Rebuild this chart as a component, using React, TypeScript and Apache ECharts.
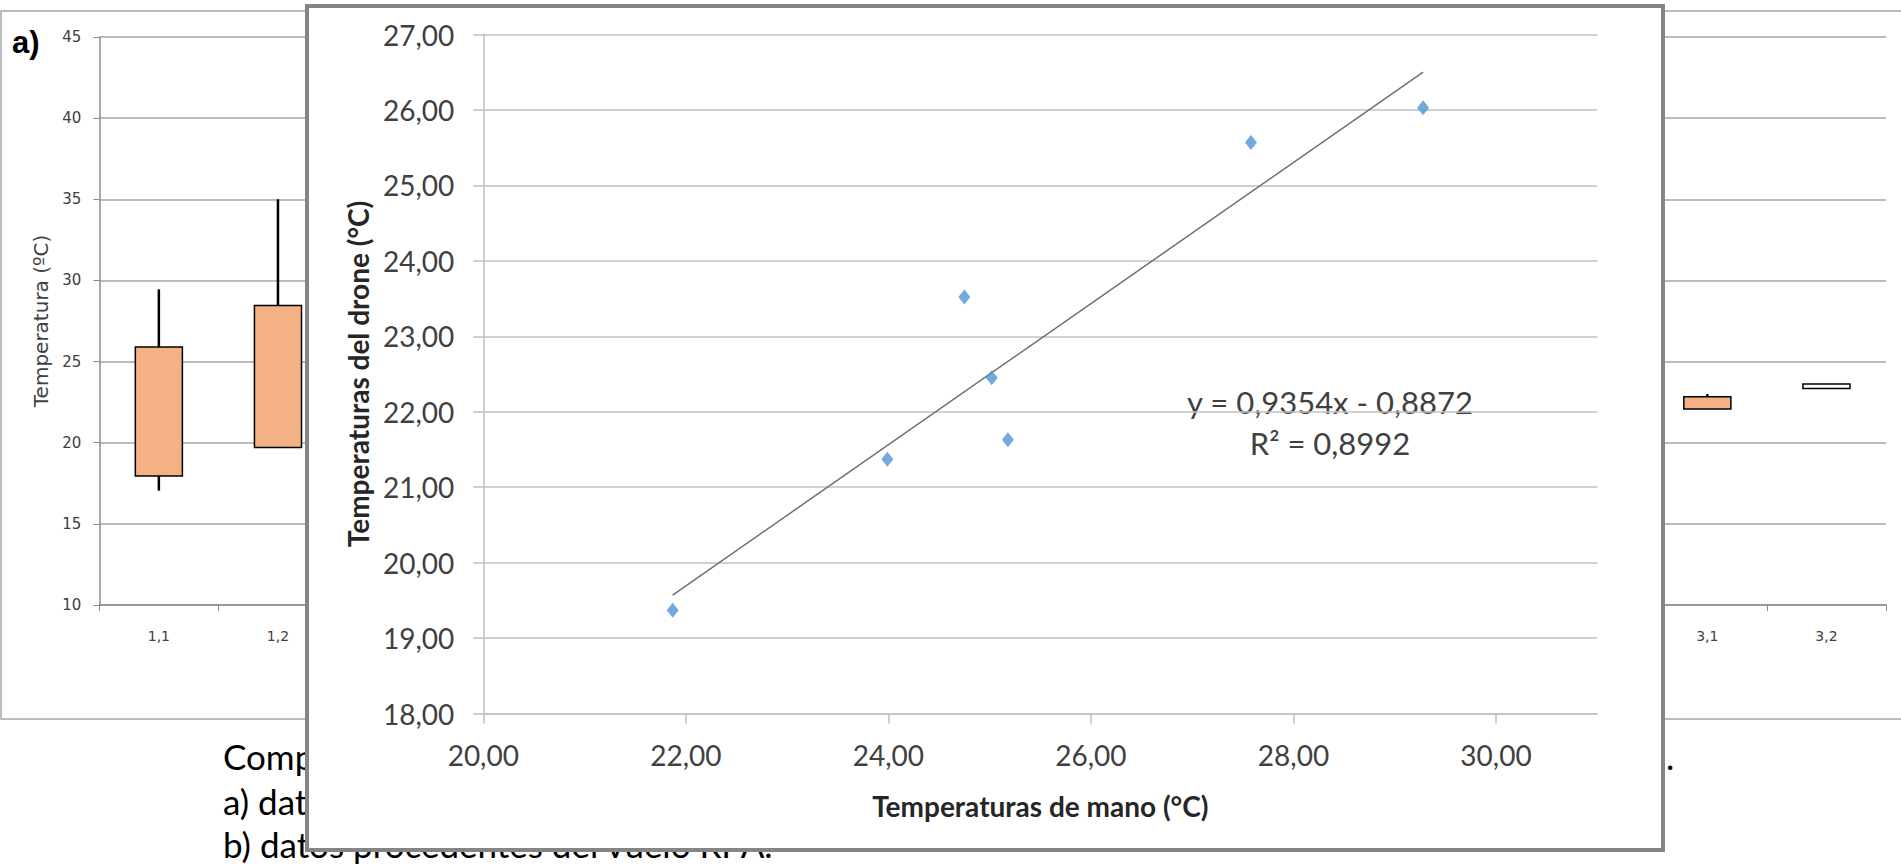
import React, { useEffect, useRef } from "react";
import * as echarts from "echarts";

// ---------- background box plot (panel a) ----------
const boxCategories = ["1,1", "1,2", "", "", "", "", "", "", "", "", "", "", "", "3,1", "3,2"];
const boxMin = [17.05, 19.7, null, null, null, null, null, null, null, null, null, null, null, 22.07, 23.34];
const boxQ1 = [17.95, 19.7, null, null, null, null, null, null, null, null, null, null, null, 22.07, 23.34];
const boxQ3 = [25.9, 28.45, null, null, null, null, null, null, null, null, null, null, null, 22.83, 23.62];
const boxMax = [29.45, 35.0, null, null, null, null, null, null, null, null, null, null, null, 23.0, 23.62];
const boxFill = ["#F4B183", "#F4B183", "", "", "", "", "", "", "", "", "", "", "", "#F4B183", "#FFFFFF"];

// ---------- scatter (foreground) ----------
const handTemps = [21.87, 23.99, 24.75, 25.02, 25.18, 27.58, 29.28];
const droneTemps = [19.37, 21.37, 23.52, 22.45, 21.63, 25.57, 26.03];
const trendSlope = 0.9354;
const trendIntercept = -0.8872;
const rSquared = 0.8992;
const xTicks = [20, 22, 24, 26, 28, 30];

const comma = (v: number, d: number) => v.toFixed(d).replace(".", ",");

export default function App() {
  const bgRef = useRef<HTMLDivElement>(null);
  const fgRef = useRef<HTMLDivElement>(null);

  useEffect(() => {
    document.body.style.margin = "0";
    const bg = echarts.init(bgRef.current!, null, { renderer: "svg" });
    const fg = echarts.init(fgRef.current!, null, { renderer: "svg" });

    const boxData: any[] = [];
    boxCategories.forEach((_, i) => {
      if (boxQ1[i] !== null) {
        boxData.push([i, boxMin[i], boxQ1[i], boxQ3[i], boxMax[i]]);
      }
    });

    const captionStyle = { fontSize: 35, fontFamily: "Lato", fill: "#000", verticalAlign: "middle", textVerticalAlign: "middle" };

    bg.setOption({
      animation: false,
      grid: { left: 99.3, right: 15, top: 37, bottom: 260 },
      xAxis: {
        type: "category",
        data: boxCategories,
        boundaryGap: true,
        axisLine: { show: true, lineStyle: { color: "#8c8c8c", width: 1.5 } },
        axisTick: { show: true, length: 6, interval: 0, alignWithLabel: false, lineStyle: { color: "#8c8c8c" } },
        axisLabel: { interval: 0, fontSize: 14, color: "#404040", margin: 24, fontFamily: "DejaVu Sans" },
      },
      yAxis: {
        type: "value",
        min: 10,
        max: 45,
        interval: 5,
        name: "Temperatura (ºC)",
        nameLocation: "middle",
        nameGap: 47,
        nameTextStyle: { fontSize: 20, color: "#404040", fontFamily: "DejaVu Sans" },
        axisLine: { show: true, lineStyle: { color: "#8c8c8c", width: 1.5 } },
        axisTick: { show: true, length: 6, lineStyle: { color: "#8c8c8c" } },
        axisLabel: { margin: 18, fontSize: 15, color: "#404040", fontFamily: "DejaVu Sans" },
        splitLine: { show: true, lineStyle: { color: "#a6a6a6", width: 1.5 } },
      },
      series: [
        {
          type: "custom",
          encode: { x: 0, y: [1, 2, 3, 4] },
          data: boxData,
          renderItem: (params: any, api: any) => {
            const i = api.value(0);
            const pLo = api.coord([i, api.value(1)]);
            const pQ1 = api.coord([i, api.value(2)]);
            const pQ3 = api.coord([i, api.value(3)]);
            const pHi = api.coord([i, api.value(4)]);
            const w = api.size([1, 0])[0] * 0.395;
            return {
              type: "group",
              children: [
                {
                  type: "line",
                  shape: { x1: pHi[0], y1: pHi[1], x2: pQ3[0], y2: pQ3[1] },
                  style: { stroke: "#000", lineWidth: 2.5 },
                },
                {
                  type: "line",
                  shape: { x1: pLo[0], y1: pLo[1], x2: pQ1[0], y2: pQ1[1] },
                  style: { stroke: "#000", lineWidth: 2.5 },
                },
                {
                  type: "rect",
                  shape: { x: pQ3[0] - w / 2, y: pQ3[1], width: w, height: pQ1[1] - pQ3[1] },
                  style: { fill: boxFill[i], stroke: "#000", lineWidth: 1.5 },
                },
              ],
            };
          },
        },
      ],
      graphic: [
        {
          type: "rect",
          shape: { x: 1, y: 11, width: 1960, height: 708 },
          style: { fill: "none", stroke: "#a6a6a6", lineWidth: 1.5 },
        },
        {
          type: "text",
          x: 12,
          y: 42,
          style: { text: "a)", fontSize: 31, fontWeight: "bold", fontFamily: "Liberation Sans", fill: "#000", verticalAlign: "middle", textVerticalAlign: "middle" },
        },
        { type: "text", x: 223, y: 756, style: { text: "Comparación", ...captionStyle } },
        { type: "text", x: 1666, y: 756, style: { text: ".", ...captionStyle } },
        { type: "text", x: 223, y: 801, style: { text: "a) datos", ...captionStyle } },
        { type: "text", x: 223, y: 844, style: { text: "b) datos procedentes del vuelo RPA.", ...captionStyle } },
      ],
    });

    const xMinData = Math.min(...handTemps);
    const xMaxData = Math.max(...handTemps);
    const trendData = [
      [xMinData, trendSlope * xMinData + trendIntercept],
      [xMaxData, trendSlope * xMaxData + trendIntercept],
    ];
    const scatterData = handTemps.map((x, i) => [x, droneTemps[i]]);
    const eqText = `y = ${comma(trendSlope, 4)}x ${trendIntercept < 0 ? "-" : "+"} ${comma(Math.abs(trendIntercept), 4)}`;
    const r2Text = `R² = ${comma(rSquared, 4)}`;

    const axisGray = "#bfbfbf";
    fg.setOption({
      animation: false,
      textStyle: { fontFamily: "Lato" },
      grid: { left: 178.3, right: 67.7, top: 30.5, bottom: 138.5 },
      xAxis: {
        type: "value",
        min: 20,
        max: 31,
        interval: 2,
        name: "Temperaturas de mano (°C)",
        nameLocation: "middle",
        nameGap: 78,
        nameTextStyle: { fontSize: 28, fontWeight: "bold", color: "#262626", fontFamily: "Lato" },
        axisLine: { show: true, onZero: false, lineStyle: { color: axisGray, width: 1.5 } },
        axisTick: { show: true, length: 10, customValues: xTicks, lineStyle: { color: axisGray, width: 1.5 } },
        axisLabel: {
          customValues: xTicks,
          margin: 27,
          fontSize: 28,
          color: "#404040",
          fontFamily: "Lato",
          formatter: (v: number) => comma(v, 2),
        },
        splitLine: { show: false },
      },
      yAxis: {
        type: "value",
        min: 18,
        max: 27,
        interval: 1,
        name: "Temperaturas del drone (°C)",
        nameLocation: "middle",
        nameRotate: 90,
        nameGap: 109,
        nameTextStyle: { fontSize: 28, fontWeight: "bold", color: "#262626", fontFamily: "Lato" },
        axisLine: { show: true, lineStyle: { color: axisGray, width: 1.5 } },
        axisTick: { show: true, length: 10, lineStyle: { color: axisGray, width: 1.5 } },
        axisLabel: {
          margin: 29,
          fontSize: 28,
          color: "#404040",
          fontFamily: "Lato",
          formatter: (v: number) => comma(v, 2),
        },
        splitLine: { show: true, lineStyle: { color: "#c2c2c2", width: 1.5 } },
      },
      series: [
        {
          type: "line",
          data: trendData,
          showSymbol: false,
          symbol: "none",
          lineStyle: { color: "#6e6e6e", width: 1.5 },
          z: 2,
        },
        {
          type: "scatter",
          data: scatterData,
          symbol: "diamond",
          symbolSize: [12, 15],
          itemStyle: { color: "#4f93d6" },
          z: 3,
        },
      ],
      graphic: [
        {
          type: "rect",
          shape: { x: 2, y: 2, width: 1356, height: 844 },
          style: { fill: "none", stroke: "#858585", lineWidth: 4 },
        },
        {
          type: "text",
          x: 1025,
          y: 398,
          style: { text: eqText, fontSize: 31, fontFamily: "Lato", fill: "#404040", align: "center", verticalAlign: "middle", textAlign: "center", textVerticalAlign: "middle" },
        },
        {
          type: "text",
          x: 1025,
          y: 439,
          style: { text: r2Text, fontSize: 31, fontFamily: "Lato", fill: "#404040", align: "center", verticalAlign: "middle", textAlign: "center", textVerticalAlign: "middle" },
        },
      ],
    });

    return () => {
      bg.dispose();
      fg.dispose();
    };
  }, []);

  return (
    <div style={{ position: "relative", width: 1901, height: 865, overflow: "hidden", background: "#fff" }}>
      <div ref={bgRef} style={{ position: "absolute", left: 0, top: 0, width: 1901, height: 865 }} />
      <div ref={fgRef} style={{ position: "absolute", left: 305, top: 4, width: 1360, height: 848, background: "#fff" }} />
    </div>
  );
}
